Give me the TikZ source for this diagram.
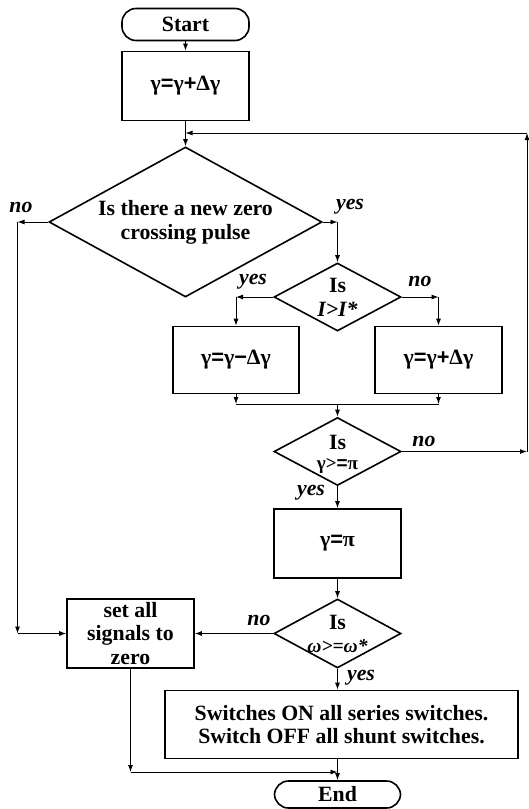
\documentclass[tikz,border=0pt]{standalone}
\usepackage{fontspec}
\setmainfont{Liberation Serif}
\newfontfamily\symf{Liberation Sans}
\newcommand{\gm}{{\rmfamily γ}}
\usetikzlibrary{shapes.geometric,arrows.meta}
\begin{document}
\begin{tikzpicture}[x=1pt,y=-1pt,
  every node/.style={font=\fontsize{21.8}{23.8}\selectfont\bfseries},
  box/.style={draw, line width=1.6pt, inner sep=0pt, align=center},
  term/.style={draw, line width=1.6pt, rounded corners=14pt, inner sep=0pt},
  dia/.style={draw, diamond, line width=1.6pt, inner sep=0pt},
  txt/.style={align=center, inner sep=0pt},
  lbl/.style={font=\fontsize{21.8}{23.8}\selectfont\bfseries\itshape, inner sep=0pt},
  conn/.style={line width=0.9pt, -{Latex[length=7pt,width=5pt]}},
  plain/.style={line width=0.9pt}
]
\useasboundingbox (0,0) rectangle (529,809);

% nodes
\node[term, minimum width=127pt, minimum height=32pt] (start) at (185.5,24.5) {Start};
\node[box, minimum width=127pt, minimum height=69pt] (b1) at (185.5,86) {\gm{\symf=}\gm{\symf+}Δ\gm};
\node[dia, minimum width=273pt, minimum height=150pt] (d1) at (185.5,222) {};
\node[txt] (d1t) at (185.5,222) {Is there a new zero\\crossing pulse};
\node[dia, minimum width=127pt, minimum height=68pt] (d2) at (337.5,297) {};
\node[txt] (d2t) at (337.5,297) {Is\\\textit{I>I*}};
\node[box, minimum width=126pt, minimum height=67pt] (b2) at (236,360) {\gm{\symf=}\gm{\symf−}Δ\gm};
\node[box, minimum width=127pt, minimum height=67pt] (b3) at (438.5,360) {\gm{\symf=}\gm{\symf+}Δ\gm};
\node[dia, minimum width=127pt, minimum height=68pt] (d3) at (337.5,451.5) {};
\node[txt] (d3t) at (337.5,454) {Is\\[-4pt]{\fontsize{19}{20}\selectfont γ>{\symf=}π}};
\node[box, minimum width=127pt, minimum height=69pt] (b4) at (337.5,543.5) {\gm{\symf=}π};
\node[dia, minimum width=127pt, minimum height=69pt] (d4) at (337.5,633.5) {};
\node[txt] (d4t) at (337.5,634) {Is\\{\fontsize{19.5}{21}\selectfont\itshape ω>=ω*}};
\node[box, minimum width=127pt, minimum height=69pt] (b5) at (130.5,633.5) {set all\\signals to\\zero};
\node[box, minimum width=353pt, minimum height=68pt] (b6) at (341.5,724.5) {Switches ON all series switches.\\Switch OFF all shunt switches.};
\node[term, minimum width=126pt, minimum height=27pt] (end) at (337.5,794.5) {End};

% helper coordinates
\coordinate (nl1) at (17.5,222);
\coordinate (nl2) at (17.5,633.5);
\coordinate (y1) at (337.5,222);
\coordinate (y2) at (236,297);
\coordinate (n2) at (438.5,297);
\coordinate (m1) at (236,404);
\coordinate (m2) at (438.5,404);
\coordinate (m0) at (337.5,404);
\coordinate (r1) at (527,451.5);
\coordinate (r2) at (527,133);
\coordinate (r3) at (185.5,133);
\coordinate (bl1) at (130.5,772);
\coordinate (bl2) at (337.5,772);

% connectors
\draw[conn] (start) -- (b1);
\draw[conn] (b1) -- (d1);
\draw[conn] (d1.west) -- (nl1);
\draw[conn] (nl1) -- (nl2);
\draw[conn] (nl2) -- (b5.west);
\draw[conn] (d1.east) -- (y1);
\draw[conn] (y1) -- (d2.north);
\draw[conn] (d2.west) -- (y2);
\draw[conn] (y2) -- (b2.north);
\draw[conn] (d2.east) -- (n2);
\draw[conn] (n2) -- (b3.north);
\draw[conn] (b2.south) -- (m1);
\draw[conn] (b3.south) -- (m2);
\draw[plain] (m1) -- (m2);
\draw[conn] (m0) -- (d3.north);
\draw[conn] (d3.east) -- (r1);
\draw[conn] (r1) -- (r2);
\draw[conn] (r2) -- (r3);
\draw[conn] (d3.south) -- (b4.north);
\draw[conn] (b4.south) -- (d4.north);
\draw[conn] (d4.west) -- (b5.east);
\draw[conn] (d4.south) -- (d4.south |- b6.north);
\draw[conn] (end.north |- b6.south) -- (end.north);
\draw[conn] (b5.south) -- (bl1);
\draw[conn] (bl1) -- (bl2);

% labels
\node[lbl] (l1) at (21,207) {no};
\node[lbl] (l2) at (350,207) {yes};
\node[lbl] (l3) at (253,282) {yes};
\node[lbl] (l4) at (420,281) {no};
\node[lbl] (l5) at (424,441) {no};
\node[lbl] (l6) at (311,493) {yes};
\node[lbl] (l7) at (259,620) {no};
\node[lbl] (l8) at (361,678) {yes};
\end{tikzpicture}
\end{document}
